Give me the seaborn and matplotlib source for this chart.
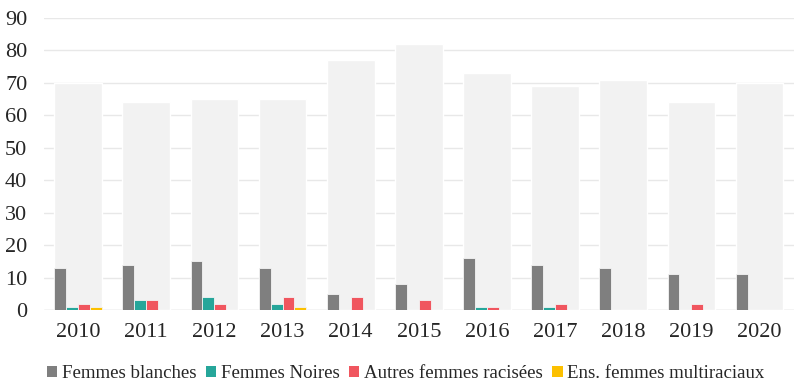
import pandas as pd
import seaborn as sns
import matplotlib.pyplot as plt
from matplotlib.patches import Patch

# data
years = ['2010', '2011', '2012', '2013', '2014', '2015', '2016', '2017', '2018', '2019', '2020']
total = [70, 64, 65, 65, 77, 82, 73, 69, 71, 64, 70]
blanches = [13, 14, 15, 13, 5, 8, 16, 14, 13, 11, 11]
noires = [1, 3, 4, 2, 0, 0, 1, 1, 0, 0, 0]
racisees = [2, 3, 2, 4, 4, 3, 1, 2, 0, 2, 0]
multi = [1, 0, 0, 1, 0, 0, 0, 0, 0, 0, 0]

series = ['Femmes blanches', 'Femmes Noires', 'Autres femmes racisées', 'Ens. femmes multiraciaux']
colors = ['#7f7f7f', '#26a69a', '#f0565f', '#fcc000']


def build_long_df():
    # long-form table for the hue bars
    rows = []
    for name, vals in zip(series, [blanches, noires, racisees, multi]):
        for y, v in zip(years, vals):
            rows.append({'year': y, 'groupe': name, 'value': v})
    return pd.DataFrame(rows)


def main():
    sns.set_style('white')
    plt.rcParams['font.family'] = ['Liberation Serif', 'DejaVu Serif']

    fig = plt.figure(figsize=(8, 3.91), dpi=100)
    ax = fig.add_axes([0.055, 0.207, 0.937, 0.747])

    df_total = pd.DataFrame({'year': years, 'total': total})
    df_long = build_long_df()

    # light background bars (totals)
    sns.barplot(data=df_total, x='year', y='total', color='#f2f2f2', width=0.7,
                saturation=1, ax=ax, zorder=1)
    # the four groups
    sns.barplot(data=df_long, x='year', y='value', hue='groupe', hue_order=series,
                palette=colors, width=0.7, saturation=1, ax=ax, legend=False, zorder=2,
                edgecolor='#f4f4f4', linewidth=0.6)

    ax.set_ylim(0, 90)
    ax.set_yticks(range(0, 91, 10))
    ax.set_xlim(-0.5, 10.5)
    ax.yaxis.grid(True, color='#e8e8e8', linewidth=1)
    ax.set_axisbelow(True)
    for s in ax.spines.values():
        s.set_visible(False)
    ax.axhline(0, color='#e0e0e0', linewidth=1, zorder=0)
    ax.set_xlabel('')
    ax.set_ylabel('')
    ax.tick_params(axis='both', labelsize=16, length=0)
    ax.tick_params(axis='x', pad=9)
    ax.tick_params(axis='y', pad=12)

    handles = [Patch(facecolor=c, edgecolor='none') for c in colors]
    fig.legend(handles, series, loc='center', bbox_to_anchor=(0.507, 0.045), ncol=4,
               frameon=False, fontsize=13.6, handlelength=0.55, handleheight=0.55,
               handletextpad=0.25, columnspacing=0.5)

    fig.savefig('out.png', dpi=100)
    plt.close(fig)


if __name__ == "__main__":
    main()
